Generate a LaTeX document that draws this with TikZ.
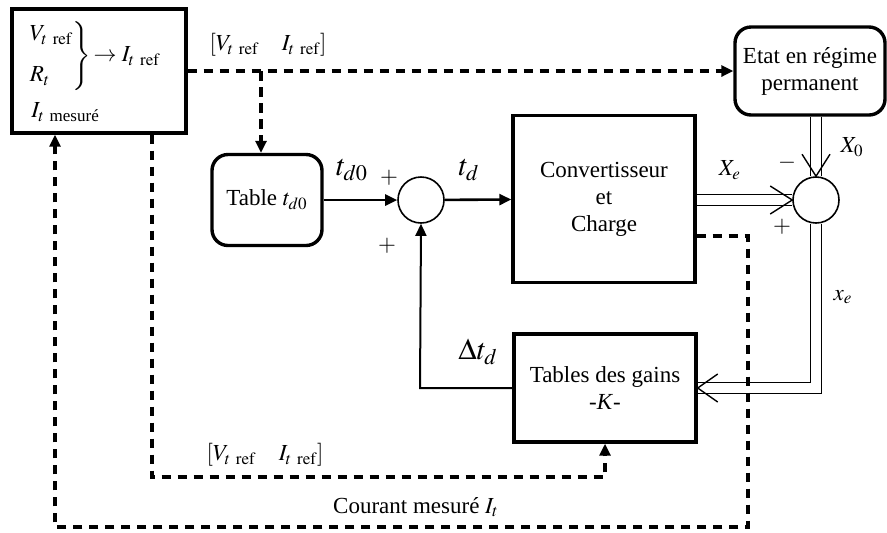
\documentclass[tikz,border=0pt]{standalone}
\usepackage{amsmath}
\usepackage{mathptmx}
\usepackage{fontspec}
\setmainfont{Liberation Serif}
\usetikzlibrary{arrows.meta}
\usetikzlibrary{calc}
\usetikzlibrary{positioning}

\begin{document}
\begin{tikzpicture}
    [   x = 0.5pt, y = -0.5pt
    ,   font = \rmfamily\fontsize{11.5}{13.5}\selectfont
    ,   > = {Triangle[length=6pt,width=5.5pt]}
    ,   bloc/.style = {draw, line width=1.7pt, inner sep=0pt, align=center}
    ,   arrondi/.style = {bloc, rounded corners=8pt}
    ,   somme/.style = {draw, circle, line width=0.8pt, minimum size=23pt, inner sep=0pt}
    ,   signal/.style = {line width=1.3pt}
    ,   retour/.style = {line width=1pt}
    ,   consigne/.style = {line width=1.6pt, dash pattern=on 4.8pt off 3.2pt}
    ,   vecteur/.style = {double, double distance=5pt, line width=0.7pt}
    ,   pointe/.style = {line width=0.7pt}
    ,   grand/.style = {font=\rmfamily\fontsize{15}{17}\selectfont}
    ]
    \useasboundingbox (0,0) rectangle (887,532);

    % blocs
    \node[bloc, minimum width=87pt, minimum height=62pt] (ctrl) at (99,71) {};
    \node[anchor = west, inner sep = 0pt] (regle) at (27,56)
    {$\left.\begin{array}{@{}l@{}}V_{t\ \mathrm{ref}}\\[7pt] R_t\end{array}\right\}\!\rightarrow I_{t\ \mathrm{ref}}$};
    \node[anchor = west, inner sep = 0pt] (imes) at (31,112) {$I_{t\ \text{mesuré}}$};

    \node[arrondi, minimum width=75pt, minimum height=44pt] (etat) at (810,71)
    {Etat en régime\\permanent};
    \node[arrondi, minimum width=55pt, minimum height=45.5pt] (table) at (267,200)
    {Table $t_{d0}$};
    \node[somme] (s1) at (421,200) {};
    \node[bloc, minimum width=91pt, minimum height=83.5pt] (conv) at (604,199)
    {Convertisseur\\et\\Charge};
    \node[somme] (s2) at (816,200) {};
    \node[bloc, minimum width=91pt, minimum height=54pt] (gains) at (605,388)
    {Tables des gains\\-\textit{K}-};

    % signaux
    \draw[signal, ->] (table) -- (s1);
    \draw[signal, ->] (s1) -- (conv);
    \coordinate (coin) at (420,388);
    \draw[retour, ->] (gains.west) -- (coin) -- (s1.south);

    % grandeurs vectorielles
    \draw[vecteur] (conv.east |- s2) -- (s2.west);
    \draw[pointe] ($(s2.west)+(-22,-14)$) -- (s2.west) -- ($(s2.west)+(-22,14)$);
    \draw[vecteur] (etat.south -| s2) -- (s2.north);
    \draw[pointe] ($(s2.north)+(-14,-22)$) -- (s2.north) -- ($(s2.north)+(14,-22)$);
    \coordinate (bas) at (816,388);
    \draw[vecteur] (s2.south) -- (bas) -- (gains.east);
    \draw[pointe] ($(gains.east)+(20,-14)$) -- (gains.east) -- ($(gains.east)+(20,14)$);

    % references et mesures
    \coordinate (br) at (261,71);
    \draw[consigne, ->] (ctrl.east) -- (etat.west);
    \draw[consigne, ->] (br) -- (br |- table.north);
    \coordinate (d1) at (152,477);
    \draw[consigne, ->] (ctrl.south -| d1) -- (d1) -- (d1 -| gains.south) -- (gains.south);
    \coordinate (m1) at (748,236);
    \coordinate (m2) at (55,527);
    \draw[consigne, ->] (conv.east |- m1) -- (m1) -- (m1 |- m2) -- (m2) -- (ctrl.south -| m2);

    % etiquettes
    \node (lref1) at (268,45) {$[V_{t\ \mathrm{ref}}\quad I_{t\ \mathrm{ref}}]$};
    \node (lref2) at (265,455) {$[V_{t\ \mathrm{ref}}\quad I_{t\ \mathrm{ref}}]$};
    \node (lmes) at (416,507) {Courant mesuré $I_t$};
    \node[grand] (ltd0) at (352,170) {$t_{d0}$};
    \node (p1) at (389,178) {$+$};
    \node (p2) at (387,246) {$+$};
    \node[grand] (ltd) at (469,170) {$t_d$};
    \node[grand] (ldtd) at (478,352) {$\Delta t_d$};
    \node (lxe) at (730,170) {$X_e$};
    \node (lx0) at (852,147) {$X_0$};
    \node (moins) at (787,163) {$-$};
    \node (p3) at (782,227) {$+$};
    \node (lxe2) at (843,297) {$x_e$};
\end{tikzpicture}
\end{document}
